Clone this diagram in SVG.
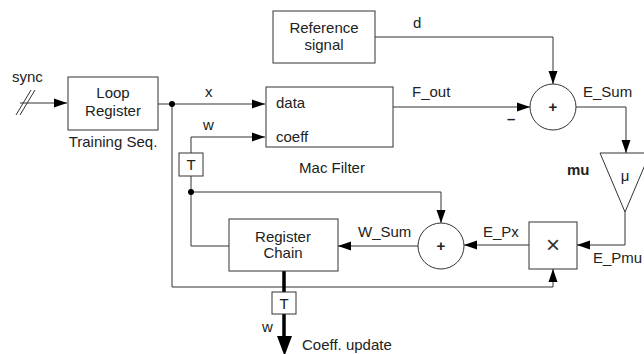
<svg xmlns="http://www.w3.org/2000/svg" width="644" height="354" viewBox="0 0 644 354">
<defs>
<marker id="ah" markerWidth="14" markerHeight="10" refX="13" refY="5" orient="auto" markerUnits="userSpaceOnUse">
<path d="M0,0.5 L13,5 L0,9.5 Z" fill="#000"/>
</marker>
<style>
text{font-family:"Liberation Sans",Arial,sans-serif;font-size:15px;fill:#222}
.b{font-weight:bold}
.m{text-anchor:middle}
.box{fill:#fff;stroke:#333;stroke-width:1}
.ln{fill:none;stroke:#333;stroke-width:1}
.thick{fill:none;stroke:#000;stroke-width:3.5}
</style>
</defs>
<rect width="644" height="354" fill="#fff"/>

<g id="connectors">
<path class="ln" d="M20,103 H67" marker-end="url(#ah)"/>
<path class="ln" d="M16,115 L31,90 M20,115 L35,90"/>
<path class="ln" d="M158,104 H265" marker-end="url(#ah)"/>
<path class="ln" d="M172,104 V287 H553 V269" marker-end="url(#ah)"/>
<path class="ln" d="M191,153 V137 H265" marker-end="url(#ah)"/>
<path class="ln" d="M191,176 V246 H229"/>
<path class="ln" d="M191,192 H441 V223" marker-end="url(#ah)"/>
<path class="ln" d="M375,37 H553 V84" marker-end="url(#ah)"/>
<path class="ln" d="M393,107 H530" marker-end="url(#ah)"/>
<path class="ln" d="M576,107 H626 V153" marker-end="url(#ah)"/>
<path class="ln" d="M625,212 V245 H577" marker-end="url(#ah)"/>
<path class="ln" d="M529,245 H464" marker-end="url(#ah)"/>
<path class="ln" d="M418,246 H338" marker-end="url(#ah)"/>
<path class="thick" d="M284,271 V292 M284,314 V338"/>
<path d="M277,336 L292,336 L284.5,356 Z" fill="#000"/>
<circle cx="172" cy="104" r="3" fill="#000"/>
<circle cx="191" cy="192" r="3" fill="#000"/>
<text x="205" y="97">x</text>
<text x="203" y="130">w</text>
<text x="12" y="82">sync</text>
<text x="413" y="28">d</text>
<text x="412" y="97">F_out</text>
<text x="507" y="124" class="b">–</text>
<text x="583" y="97">E_Sum</text>
<text x="593" y="263">E_Pmu</text>
<text x="483" y="237">E_Px</text>
<text x="358" y="237">W_Sum</text>
<text x="262" y="332">w</text>
<text x="302" y="350">Coeff. update</text>
</g>

<g id="loop-register">
<rect class="box" x="68" y="77" width="90" height="53"/>
<text x="113" y="98" class="m">Loop</text>
<text x="113" y="116" class="m">Register</text>
<text x="113" y="147" class="m">Training Seq.</text>
</g>

<g id="reference-signal">
<rect class="box" x="273" y="11" width="102" height="52"/>
<text x="324" y="33" class="m">Reference</text>
<text x="324" y="50" class="m">signal</text>
</g>

<g id="mac-filter">
<rect class="box" x="266" y="87" width="127" height="60"/>
<text x="276" y="108">data</text>
<text x="276" y="142">coeff</text>
<text x="332" y="173" class="m">Mac Filter</text>
</g>

<g id="sum-error">
<circle class="box" cx="553" cy="107" r="23"/>
<text x="553" y="112" class="m b">+</text>
</g>

<g id="gain-mu">
<polygon class="box" points="600,153 650,153 625,212"/>
<text x="625" y="181" class="m">μ</text>
<text x="567" y="175" class="b">mu</text>
</g>

<g id="multiplier">
<rect class="box" x="529" y="222" width="48" height="47"/>
<text x="553" y="253" class="m" style="font-size:24px;fill:#333">×</text>
</g>

<g id="sum-weights">
<circle class="box" cx="441" cy="246" r="23"/>
<text x="441" y="251" class="m b">+</text>
</g>

<g id="register-chain">
<rect class="box" x="229" y="219" width="109" height="52"/>
<text x="283" y="242" class="m">Register</text>
<text x="283" y="258" class="m">Chain</text>
</g>

<g id="delay-w">
<rect class="box" x="179" y="153" width="24" height="23"/>
<text x="191" y="170" class="m">T</text>
</g>

<g id="delay-out">
<rect class="box" x="272" y="292" width="24" height="22"/>
<text x="284" y="309" class="m">T</text>
</g>
</svg>
